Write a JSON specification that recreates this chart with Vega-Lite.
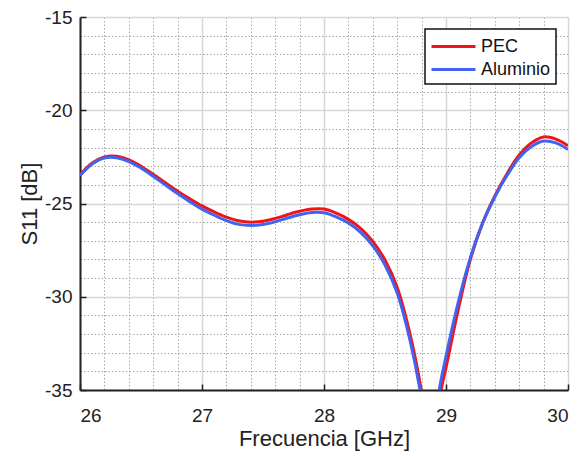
{
  "$schema": "https://vega.github.io/schema/vega-lite/v6.json",
  "width": 488,
  "height": 373,
  "autosize": {"type": "none"},
  "padding": {"left": 80, "top": 17, "right": 13, "bottom": 66},
  "background": "white",
  "config": {
    "view": {"stroke": null},
    "font": "Liberation Sans",
    "legend": {
      "orient": "none",
      "legendX": 345,
      "legendY": 12,
      "fillColor": "white",
      "strokeColor": "#111111",
      "strokeWidth": 1.5,
      "padding": 5,
      "cornerRadius": 0,
      "symbolType": "M-2,0H2",
      "symbolSize": 484,
      "symbolStrokeWidth": 3,
      "symbolOffset": 11,
      "labelFont": "Liberation Sans",
      "labelFontSize": 18,
      "labelColor": "#111111",
      "labelOffset": 15,
      "rowPadding": 1
    }
  },
  "data": {
    "values": [
      {"f": 26.0, "s11": -23.47, "material": "PEC"},
      {"f": 26.1, "s11": -22.83, "material": "PEC"},
      {"f": 26.2, "s11": -22.5, "material": "PEC"},
      {"f": 26.3, "s11": -22.47, "material": "PEC"},
      {"f": 26.4, "s11": -22.66, "material": "PEC"},
      {"f": 26.5, "s11": -23.0, "material": "PEC"},
      {"f": 26.6, "s11": -23.43, "material": "PEC"},
      {"f": 26.7, "s11": -23.89, "material": "PEC"},
      {"f": 26.8, "s11": -24.34, "material": "PEC"},
      {"f": 26.9, "s11": -24.75, "material": "PEC"},
      {"f": 27.0, "s11": -25.13, "material": "PEC"},
      {"f": 27.1, "s11": -25.45, "material": "PEC"},
      {"f": 27.2, "s11": -25.73, "material": "PEC"},
      {"f": 27.3, "s11": -25.93, "material": "PEC"},
      {"f": 27.4, "s11": -26.0, "material": "PEC"},
      {"f": 27.5, "s11": -25.95, "material": "PEC"},
      {"f": 27.6, "s11": -25.8, "material": "PEC"},
      {"f": 27.7, "s11": -25.6, "material": "PEC"},
      {"f": 27.8, "s11": -25.42, "material": "PEC"},
      {"f": 27.9, "s11": -25.3, "material": "PEC"},
      {"f": 28.0, "s11": -25.3, "material": "PEC"},
      {"f": 28.1, "s11": -25.52, "material": "PEC"},
      {"f": 28.2, "s11": -25.85, "material": "PEC"},
      {"f": 28.3, "s11": -26.33, "material": "PEC"},
      {"f": 28.4, "s11": -27.03, "material": "PEC"},
      {"f": 28.5, "s11": -28.03, "material": "PEC"},
      {"f": 28.6, "s11": -29.5, "material": "PEC"},
      {"f": 28.7, "s11": -31.85, "material": "PEC"},
      {"f": 28.8, "s11": -35.1, "material": "PEC"},
      {"f": 28.85, "s11": -37.5, "material": "PEC"},
      {"f": 28.88, "s11": -39.0, "material": "PEC"},
      {"f": 28.92, "s11": -37.8, "material": "PEC"},
      {"f": 28.96, "s11": -35.0, "material": "PEC"},
      {"f": 29.0, "s11": -33.8, "material": "PEC"},
      {"f": 29.1, "s11": -30.7, "material": "PEC"},
      {"f": 29.2, "s11": -28.0, "material": "PEC"},
      {"f": 29.3, "s11": -26.05, "material": "PEC"},
      {"f": 29.4, "s11": -24.6, "material": "PEC"},
      {"f": 29.5, "s11": -23.4, "material": "PEC"},
      {"f": 29.6, "s11": -22.4, "material": "PEC"},
      {"f": 29.7, "s11": -21.75, "material": "PEC"},
      {"f": 29.8, "s11": -21.43, "material": "PEC"},
      {"f": 29.9, "s11": -21.55, "material": "PEC"},
      {"f": 30.0, "s11": -21.9, "material": "PEC"},
      {"f": 26.0, "s11": -23.5, "material": "Aluminio"},
      {"f": 26.1, "s11": -22.88, "material": "Aluminio"},
      {"f": 26.2, "s11": -22.56, "material": "Aluminio"},
      {"f": 26.3, "s11": -22.55, "material": "Aluminio"},
      {"f": 26.4, "s11": -22.75, "material": "Aluminio"},
      {"f": 26.5, "s11": -23.1, "material": "Aluminio"},
      {"f": 26.6, "s11": -23.54, "material": "Aluminio"},
      {"f": 26.7, "s11": -24.01, "material": "Aluminio"},
      {"f": 26.8, "s11": -24.47, "material": "Aluminio"},
      {"f": 26.9, "s11": -24.9, "material": "Aluminio"},
      {"f": 27.0, "s11": -25.3, "material": "Aluminio"},
      {"f": 27.1, "s11": -25.63, "material": "Aluminio"},
      {"f": 27.2, "s11": -25.92, "material": "Aluminio"},
      {"f": 27.3, "s11": -26.12, "material": "Aluminio"},
      {"f": 27.4, "s11": -26.18, "material": "Aluminio"},
      {"f": 27.5, "s11": -26.13, "material": "Aluminio"},
      {"f": 27.6, "s11": -25.98, "material": "Aluminio"},
      {"f": 27.7, "s11": -25.78, "material": "Aluminio"},
      {"f": 27.8, "s11": -25.6, "material": "Aluminio"},
      {"f": 27.9, "s11": -25.48, "material": "Aluminio"},
      {"f": 28.0, "s11": -25.5, "material": "Aluminio"},
      {"f": 28.1, "s11": -25.72, "material": "Aluminio"},
      {"f": 28.2, "s11": -26.05, "material": "Aluminio"},
      {"f": 28.3, "s11": -26.55, "material": "Aluminio"},
      {"f": 28.4, "s11": -27.27, "material": "Aluminio"},
      {"f": 28.5, "s11": -28.3, "material": "Aluminio"},
      {"f": 28.6, "s11": -29.8, "material": "Aluminio"},
      {"f": 28.7, "s11": -32.2, "material": "Aluminio"},
      {"f": 28.8, "s11": -35.5, "material": "Aluminio"},
      {"f": 28.85, "s11": -38.0, "material": "Aluminio"},
      {"f": 28.87, "s11": -39.0, "material": "Aluminio"},
      {"f": 28.91, "s11": -37.8, "material": "Aluminio"},
      {"f": 28.94, "s11": -35.2, "material": "Aluminio"},
      {"f": 29.0, "s11": -33.2, "material": "Aluminio"},
      {"f": 29.1, "s11": -30.3, "material": "Aluminio"},
      {"f": 29.2, "s11": -27.9, "material": "Aluminio"},
      {"f": 29.3, "s11": -26.05, "material": "Aluminio"},
      {"f": 29.4, "s11": -24.65, "material": "Aluminio"},
      {"f": 29.5, "s11": -23.5, "material": "Aluminio"},
      {"f": 29.6, "s11": -22.55, "material": "Aluminio"},
      {"f": 29.7, "s11": -21.95, "material": "Aluminio"},
      {"f": 29.8, "s11": -21.65, "material": "Aluminio"},
      {"f": 29.9, "s11": -21.75, "material": "Aluminio"},
      {"f": 30.0, "s11": -22.1, "material": "Aluminio"}
    ]
  },
  "resolve": {"axis": {"x": "independent", "y": "independent"}},
  "layer": [
    {
      "mark": {"type": "line", "strokeOpacity": 0, "clip": true},
      "encoding": {
        "x": {
          "field": "f", "type": "quantitative",
          "scale": {"domain": [26, 30], "nice": false, "zero": false},
          "axis": {
            "orient": "bottom",
            "values": [26.2, 26.4, 26.6, 26.8, 27.2, 27.4, 27.6, 27.8, 28.2, 28.4, 28.6, 28.8, 29.2, 29.4, 29.6, 29.8],
            "grid": true, "gridColor": "#a8a8a8", "gridWidth": 1, "gridDash": [1.5, 2],
            "labels": false, "ticks": false, "domain": false, "title": null
          }
        },
        "y": {
          "field": "s11", "type": "quantitative",
          "scale": {"domain": [-35, -15], "nice": false, "zero": false},
          "axis": {
            "orient": "left",
            "values": [-34, -33, -32, -31, -29, -28, -27, -26, -24, -23, -22, -21, -19, -18, -17, -16],
            "grid": true, "gridColor": "#a8a8a8", "gridWidth": 1, "gridDash": [1.5, 2],
            "labels": false, "ticks": false, "domain": false, "title": null
          }
        },
        "detail": {"field": "material"}
      }
    },
    {
      "mark": {"type": "line", "strokeWidth": 3, "clip": true, "interpolate": "catmull-rom"},
      "encoding": {
        "x": {
          "field": "f", "type": "quantitative",
          "scale": {"domain": [26, 30], "nice": false, "zero": false},
          "axis": {
            "orient": "bottom",
            "values": [26, 27, 28, 29, 30],
            "labelExpr": "'' + datum.value",
            "grid": true, "gridColor": "#d6d6d6", "gridWidth": 1.5,
            "domainColor": "#222222", "domainWidth": 2,
            "tickColor": "#222222", "tickWidth": 1.5, "tickSize": -6,
            "labelFont": "Liberation Sans", "labelFontSize": 19, "labelColor": "#222222", "labelPadding": 22,
            "title": "Frecuencia [GHz]",
            "titleFont": "Liberation Sans", "titleFontSize": 22, "titleFontWeight": "normal", "titleColor": "#222222", "titlePadding": 3
          }
        },
        "y": {
          "field": "s11", "type": "quantitative",
          "scale": {"domain": [-35, -15], "nice": false, "zero": false},
          "axis": {
            "orient": "left",
            "values": [-35, -30, -25, -20, -15],
            "labelExpr": "'' + datum.value",
            "grid": true, "gridColor": "#d6d6d6", "gridWidth": 1.5,
            "domainColor": "#222222", "domainWidth": 2,
            "tickColor": "#222222", "tickWidth": 1.5, "tickSize": -6,
            "labelFont": "Liberation Sans", "labelFontSize": 19, "labelColor": "#222222", "labelPadding": 14,
            "title": "S11 [dB]",
            "titleFont": "Liberation Sans", "titleFontSize": 22, "titleFontWeight": "normal", "titleColor": "#222222", "titlePadding": 3
          }
        },
        "color": {
          "field": "material", "type": "nominal",
          "scale": {"domain": ["PEC", "Aluminio"], "range": ["#f01418", "#4262f0"]},
          "legend": {"title": null}
        }
      }
    }
  ]
}
